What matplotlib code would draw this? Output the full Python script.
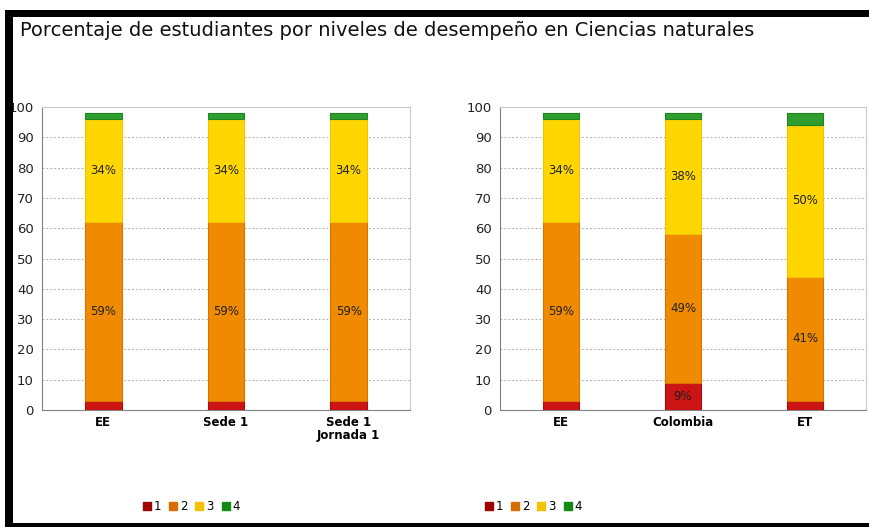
import matplotlib.pyplot as plt
import numpy as np
from matplotlib.patches import Rectangle
from matplotlib.lines import Line2D

# data
titulo = "Porcentaje de estudiantes por niveles de desempeño en Ciencias naturales"
niveles = ["1", "2", "3", "4"]

grupos_izq = ["EE", "Sede 1", "Sede 1\nJornada 1"]
izq = {
    "1": [3, 3, 3],
    "2": [59, 59, 59],
    "3": [34, 34, 34],
    "4": [2, 2, 2],
}

grupos_der = ["EE", "Colombia", "ET"]
der = {
    "1": [3, 9, 3],
    "2": [59, 49, 41],
    "3": [34, 38, 50],
    "4": [2, 2, 4],
}

colores = {"1": "#cc1414", "2": "#f08a00", "3": "#ffd600", "4": "#2f9e2f"}
bordes = {"1": "#a80c0c", "2": "#d87400", "3": "#f2c400", "4": "#1f861f"}
leg_col = {"1": "#a00000", "2": "#d96e00", "3": "#f2c200", "4": "#138a13"}

W, H = 870, 527
fig = plt.figure(figsize=(W / 100, H / 100), dpi=100)


def dibujar(ax, grupos, datos):
    x = np.arange(len(grupos))
    base = np.zeros(len(grupos))
    for n in niveles:
        vals = np.array(datos[n], dtype=float)
        ax.bar(x, vals, 0.3, bottom=base, color=colores[n],
               edgecolor=bordes[n], linewidth=0.8, zorder=3)
        for xi, b, v in zip(x, base, vals):
            if v >= 5:
                ax.text(xi, b + v / 2, "%d%%" % v, ha="center", va="center",
                        fontsize=8.5, color="#222222", zorder=4)
        base = base + vals
    ax.set_xlim(-0.5, len(grupos) - 0.5)
    ax.set_ylim(0, 100)
    ax.set_yticks(range(0, 101, 10))
    ax.set_xticks(x)
    ax.set_xticklabels(grupos, fontsize=8.5, fontweight="bold", linespacing=1.0)
    ax.tick_params(axis="y", labelsize=9.5, length=0, pad=6, labelcolor="#222222")
    ax.tick_params(axis="x", length=0, pad=4)
    ax.yaxis.grid(True, linestyle=(0, (2, 2)), color="#b0b0b0", linewidth=0.7, zorder=0)
    for s in ["top", "right"]:
        ax.spines[s].set_color("#c8c8c8")
    for s in ["left", "bottom"]:
        ax.spines[s].set_color("#808080")


ax1 = fig.add_axes([42 / W, 1 - 410 / H, 368 / W, 303 / H])
ax2 = fig.add_axes([500 / W, 1 - 410 / H, 366 / W, 303 / H])
dibujar(ax1, grupos_izq, izq)
dibujar(ax2, grupos_der, der)

fig.text(20 / W, 1 - 30 / H, titulo, fontsize=14, va="center", ha="left",
         color="#111111")

# legends
for x0 in [143, 485]:
    handles = [Line2D([], [], marker="s", linestyle="", markersize=6,
                      markerfacecolor=leg_col[n], markeredgecolor=leg_col[n]) for n in niveles]
    fig.legend(handles, niveles, loc="center left", bbox_to_anchor=(x0 / W - 0.008, 1 - 507 / H),
               ncol=4, frameon=False, fontsize=8.5, handletextpad=0.1, columnspacing=0.5,
               handlelength=1.0, borderaxespad=0)

# black frame pieces
fig.patches.append(Rectangle((5 / W, 1 - 17 / H), 1 - 5 / W, 7 / H, transform=fig.transFigure,
                             facecolor="black", edgecolor="none"))
fig.patches.append(Rectangle((5 / W, 1 - 527 / H), 8 / W, 517 / H, transform=fig.transFigure,
                             facecolor="black", edgecolor="none"))
fig.patches.append(Rectangle((5 / W, 0), 1 - 5 / W, 4 / H, transform=fig.transFigure,
                             facecolor="black", edgecolor="none"))

fig.savefig("out.png", dpi=100)
